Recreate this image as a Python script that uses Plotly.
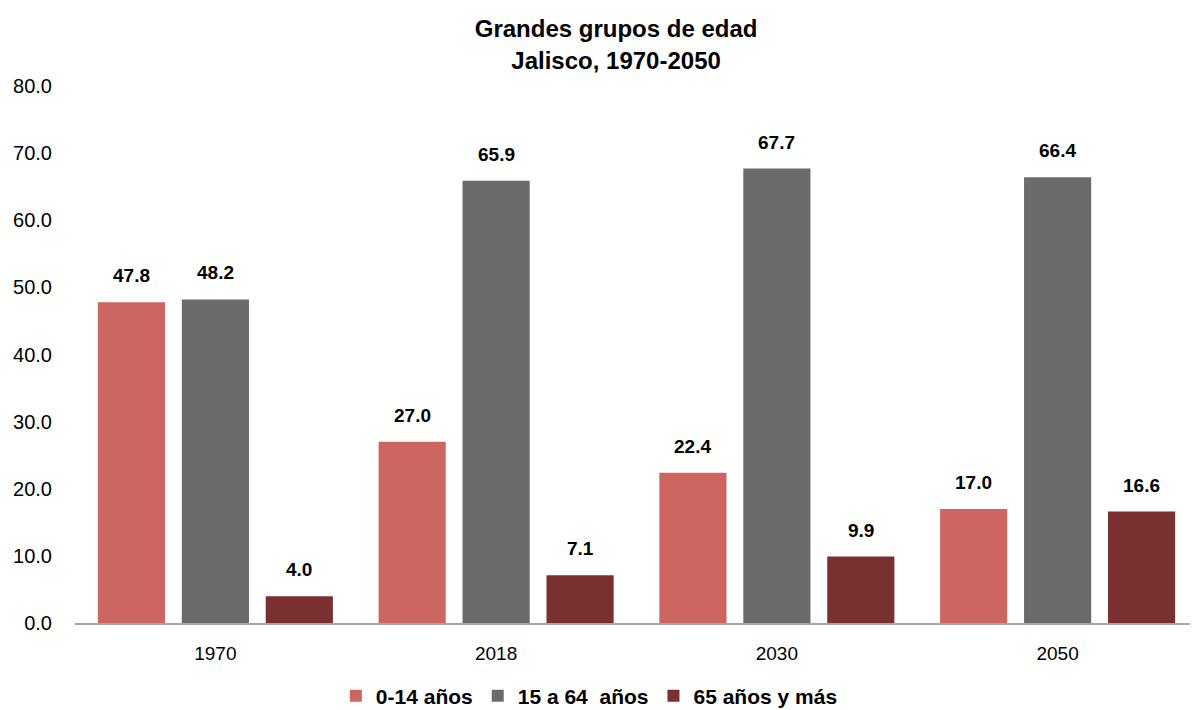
import plotly.graph_objects as go

years = ["1970", "2018", "2030", "2050"]
g_0_14 = [47.8, 27.0, 22.4, 17.0]
g_15_64 = [48.2, 65.9, 67.7, 66.4]
g_65_mas = [4.0, 7.1, 9.9, 16.6]

series = [
    ("0-14 años", g_0_14, "#CD6660"),
    ("15 a 64  años", g_15_64, "#6B6B6B"),
    ("65 años y más", g_65_mas, "#7A3030"),
]

_FONT = "Liberation Sans, Arial, sans-serif"
_SLOT = 84  # px between bar centres inside a group

fig = go.Figure()
for i, (name, vals, color) in enumerate(series):
    fig.add_trace(go.Bar(
        x=years, y=vals, name=name,
        marker_color=color, marker_line_width=0,
    ))
    # value labels sit a little above each bar (x given as category index)
    for j, v in enumerate(vals):
        fig.add_annotation(
            x=j, y=v, text=f"<b>{v:.1f}</b>", showarrow=False,
            xshift=(i - 1) * _SLOT, yshift=14, yanchor="bottom",
            font=dict(size=19, color="black", family=_FONT),
        )

# page body adds an 8px margin, so the figure is 8px smaller than the window
fig.update_layout(
    width=1190, height=702,
    template="plotly_white",
    font=dict(family=_FONT, color="black", size=19),
    title=dict(
        text="<b>Grandes grupos de edad<br>Jalisco, 1970-2050</b>",
        x=0.511, xanchor="center", y=0.958, yanchor="top",
        font=dict(size=24, color="black"),
    ),
    barmode="group", bargap=0.103, bargroupgap=0.2,
    margin=dict(l=67, r=0, t=78, b=87, autoexpand=False),
    plot_bgcolor="white", paper_bgcolor="white",
    xaxis=dict(
        type="category", range=[-0.5, 3.5],
        showgrid=False, showline=True, linecolor="#A6A6A6", linewidth=2,
        ticks="", ticklabelstandoff=12, tickfont=dict(size=19),
        automargin=False,
    ),
    yaxis=dict(
        range=[0, 80], dtick=10, tickformat=".1f",
        showgrid=False, zeroline=False, showline=False,
        ticks="", ticklabelstandoff=22, tickfont=dict(size=20),
        automargin=False,
    ),
    legend=dict(
        orientation="h", x=0.458, xanchor="center", y=-0.098, yanchor="top",
        font=dict(size=21, weight="bold"), itemwidth=30, traceorder="normal",
    ),
)

fig.write_html("out.html")
